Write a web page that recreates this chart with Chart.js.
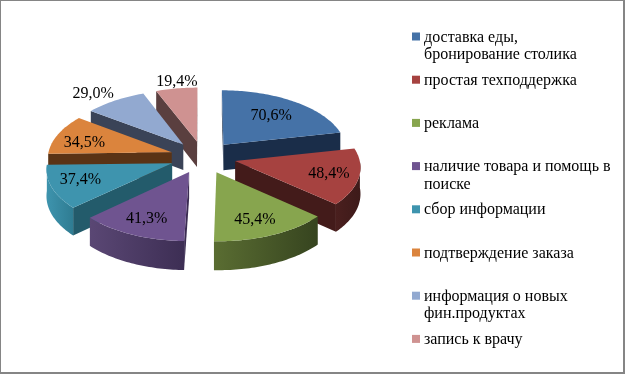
<!DOCTYPE html>
<html>
<head>
<meta charset="utf-8">
<style>
  html, body { margin: 0; padding: 0; background: #fff; overflow: hidden; }
  #wrap { position: relative; width: 625px; height: 374px; }
  canvas { display: block; }
  #frame { position: absolute; left: 0; top: 0; right: 0; bottom: 0; box-sizing: border-box; border: solid #858585; border-width: 1px 2px 2px 1px; pointer-events: none; }
</style>
<script src="https://cdn.jsdelivr.net/npm/chart.js@4"></script>
</head>
<body>
<div id="wrap">
  <canvas id="pieChart" width="625" height="374"></canvas>
  <div id="frame"></div>
</div>
<script>
const categories = [
  ['доставка еды,', 'бронирование столика'],
  ['простая техподдержка'],
  ['реклама'],
  ['наличие товара и помощь в', 'поиске'],
  ['сбор информации'],
  ['подтверждение заказа'],
  ['информация о новых', 'фин.продуктах'],
  ['запись к врачу']
];
const values = [70.6, 48.4, 45.4, 41.3, 37.4, 34.5, 29.0, 19.4];

const topColors = ['#4572a7', '#a64240', '#87a54e', '#6f5490', '#3e94ae', '#db843d', '#92a9d0', '#cf9291'];
// parede lateral: [claro, escuro] para o gradiente do arco
const wallColors = [
  ['#1a2d49', '#1a2d49'], ['#4a1f1e', '#3d1a19'], ['#5a6d32', '#36441f'], ['#5a4774', '#3d2e54'],
  ['#3e94ae', '#2f7c92'], ['#5a3315', '#5a3315'], ['#3a4357', '#3a4357'], ['#5a3f3f', '#5a3f3f']
];
const cutColors = ['#1a2d49', '#431b1a', '#3a4720', '#3b2c52', '#235b6b', '#5a3315', '#3a4357', '#5a3f3f'];

// onde cada rótulo fica, como fração do raio a partir do vértice da fatia
const labelRatioX = [0.66, 0.76, 0.70, 0.75, 0.77, 0.755, 1.33, 1.00];
const labelRatioY = [0.66, 0.80, 0.77, 0.77, 0.70, 0.50, 1.17, 1.14];

const TILT = 0.49, DEPTH = 1500, WALL = 26;

// plano da pizza -> tela, com perspectiva
function project(cx, cy, X, Y, z) {
  const f = 1 / (1 - Y / DEPTH);
  return [cx + X * f, cy + Y * TILT * f + z * f];
}

function fillPoly(ctx, pts, color) {
  ctx.beginPath();
  pts.forEach((p, i) => i ? ctx.lineTo(p[0], p[1]) : ctx.moveTo(p[0], p[1]));
  ctx.closePath();
  ctx.fillStyle = color;
  ctx.fill();
}

function signedArea(pts) {
  let s = 0;
  pts.forEach((p, i) => {
    const q = pts[(i + 1) % pts.length];
    s += p[0] * q[1] - q[0] * p[1];
  });
  return s;
}

function rimPoints(ox, oy, r, a0, a1) {
  const n = Math.max(2, Math.ceil((a1 - a0) / 0.02));
  const out = [];
  for (let i = 0; i <= n; i++) {
    const a = a0 + (a1 - a0) * i / n;
    out.push([ox + Math.cos(a) * r, oy + Math.sin(a) * r]);
  }
  return out;
}

const pie3d = {
  id: 'pie3d',
  beforeDatasetsDraw(chart) {
    const ctx = chart.ctx;
    const arcs = chart.getDatasetMeta(0).data;
    const order = arcs.map((a, i) => i).sort((i, j) => {
      const mid = k => (arcs[k].startAngle + arcs[k].endAngle) / 2;
      return Math.sin(mid(i)) - Math.sin(mid(j));
    });

    order.forEach(i => {
      const arc = arcs[i];
      const mid = (arc.startAngle + arc.endAngle) / 2;
      const off = arc.options.offset;
      const ox = Math.cos(mid) * off, oy = Math.sin(mid) * off;
      const r = arc.outerRadius;
      const P = (p, z) => project(arc.x, arc.y, p[0], p[1], z);
      const apex = [ox, oy];
      const rim = rimPoints(ox, oy, r, arc.startAngle, arc.endAngle);

      // cortes radiais: só os que estão virados para quem olha
      const startCut = [P(apex, 0), P(rim[0], 0), P(rim[0], WALL), P(apex, WALL)];
      const endCut = [P(apex, 0), P(rim[rim.length - 1], 0), P(rim[rim.length - 1], WALL), P(apex, WALL)];
      if (signedArea(startCut) < 0) fillPoly(ctx, startCut, cutColors[i]);
      if (signedArea(endCut) > 0) fillPoly(ctx, endCut, cutColors[i]);

      // parede externa, parte da frente
      const front = rim.filter(p => p[1] - oy > 0);
      if (front.length > 1) {
        const upper = front.map(p => P(p, 0));
        const lower = front.map(p => P(p, WALL)).reverse();
        const xs = upper.map(p => p[0]);
        const g = ctx.createLinearGradient(Math.min(...xs), 0, Math.max(...xs), 0);
        g.addColorStop(0, wallColors[i][0]);
        g.addColorStop(1, wallColors[i][1]);
        fillPoly(ctx, upper.concat(lower), g);
      }

      // tampo
      fillPoly(ctx, [P(apex, 0)].concat(rim.map(p => P(p, 0))), topColors[i]);
    });

    // rótulos de valor
    ctx.font = '16px "Liberation Serif"';
    ctx.fillStyle = '#000';
    ctx.textAlign = 'center';
    ctx.textBaseline = 'middle';
    arcs.forEach((arc, i) => {
      const mid = (arc.startAngle + arc.endAngle) / 2;
      const off = arc.options.offset, r = arc.outerRadius;
      const X = Math.cos(mid) * (off + r * labelRatioX[i]);
      const Y = Math.sin(mid) * off + Math.sin(mid) * r * labelRatioY[i];
      const p = project(arc.x, arc.y, X, Y, 0);
      ctx.fillText(values[i].toFixed(1).replace('.', ',') + '%', p[0], p[1]);
    });
    return false;
  },
  afterDraw(chart) {
    // legenda à direita, passo fixo de 43px
    const ctx = chart.ctx;
    const lineGap = 17.5, step = 43.2, firstBase = 41.5, textX = 424, boxX = 412;
    ctx.font = '16px "Liberation Serif"';
    ctx.textAlign = 'left';
    ctx.textBaseline = 'alphabetic';
    categories.forEach((lines, i) => {
      const base = firstBase + i * step;
      ctx.fillStyle = topColors[i];
      ctx.fillRect(boxX, base - 9, 8, 8);
      ctx.fillStyle = '#000';
      lines.forEach((t, k) => ctx.fillText(t, textX, base + k * lineGap));
    });
  }
};

new Chart(document.getElementById('pieChart'), {
  type: 'pie',
  data: {
    labels: categories,
    datasets: [{ data: values, backgroundColor: topColors, offset: 33, borderWidth: 0 }]
  },
  options: {
    responsive: false,
    animation: false,
    radius: 124,
    layout: { padding: { right: 219, bottom: 60 } },
    plugins: { legend: { display: false }, tooltip: { enabled: false } }
  },
  plugins: [pie3d]
});
</script>
</body>
</html>
